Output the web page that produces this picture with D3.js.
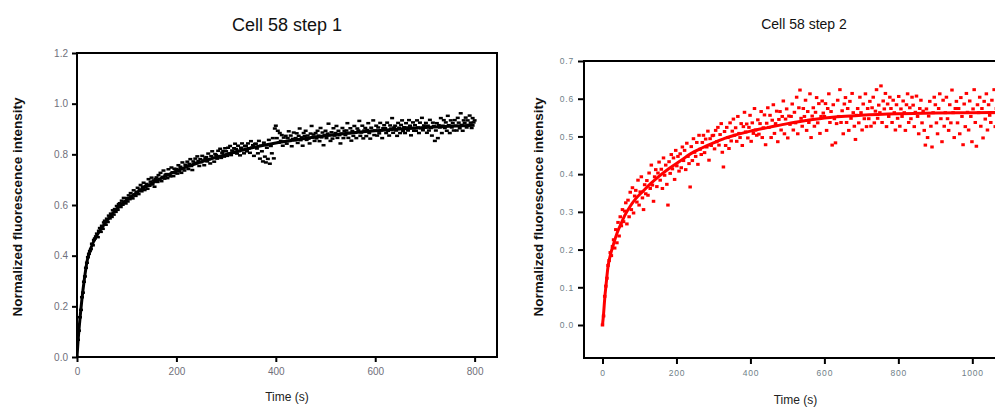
<!DOCTYPE html>
<html>
<head>
<meta charset="utf-8">
<script src="https://cdn.jsdelivr.net/npm/d3@7.9.0/dist/d3.min.js"></script>
<style>
  body { margin: 0; background: #fff; }
  svg { display: block; font-family: "Liberation Sans", Arial, sans-serif; }
</style>
</head>
<body>
<svg id="chart" width="995" height="407"></svg>
<script>
// Step 1 recording: one frame every 2 s
const step1Interval = 2;
const step1Values = [
  0.000,0.068,0.104,0.157,0.186,0.236,0.254,0.297,0.318,0.352,
  0.372,0.394,0.407,0.418,0.426,0.447,0.441,0.462,0.468,0.476,
  0.487,0.473,0.498,0.509,0.494,0.518,0.506,0.531,0.538,0.522,
  0.546,0.533,0.558,0.547,0.566,0.553,0.579,0.562,0.584,0.573,
  0.596,0.581,0.603,0.607,0.592,0.617,0.601,0.628,0.609,0.606,
  0.627,0.614,0.638,0.623,0.647,0.631,0.626,0.658,0.641,0.636,
  0.652,0.668,0.643,0.661,0.679,0.654,0.672,0.688,0.659,0.674,
  0.683,0.664,0.702,0.676,0.692,0.708,0.681,0.697,0.672,0.703,
  0.709,0.691,0.718,0.702,0.727,0.694,0.711,0.736,0.704,0.719,
  0.722,0.706,0.741,0.718,0.713,0.748,0.729,0.714,0.743,0.726,
  0.742,0.724,0.757,0.733,0.751,0.727,0.768,0.744,0.736,0.759,
  0.753,0.771,0.742,0.762,0.781,0.754,0.738,0.772,0.764,0.783,
  0.766,0.792,0.773,0.754,0.781,0.769,0.794,0.776,0.757,0.784,
  0.789,0.772,0.803,0.781,0.764,0.793,0.812,0.786,0.771,0.801,
  0.797,0.783,0.814,0.792,0.822,0.786,0.806,0.813,0.791,0.824,
  0.812,0.794,0.826,0.803,0.833,0.797,0.815,0.806,0.824,0.842,
  0.821,0.803,0.834,0.813,0.796,0.826,0.843,0.817,0.804,0.832,
  0.834,0.812,0.843,0.824,0.806,0.852,0.826,0.836,0.794,0.841,
  0.842,0.823,0.804,0.853,0.783,0.834,0.812,0.772,0.846,0.791,
  0.768,0.826,0.782,0.857,0.763,0.833,0.804,0.864,0.784,0.902,
  0.913,0.864,0.893,0.846,0.884,0.853,0.876,0.834,0.866,0.851,
  0.873,0.842,0.864,0.891,0.853,0.874,0.832,0.861,0.886,0.856,
  0.864,0.883,0.845,0.873,0.902,0.856,0.867,0.834,0.884,0.872,
  0.893,0.857,0.874,0.862,0.843,0.882,0.912,0.866,0.878,0.853,
  0.884,0.863,0.893,0.874,0.852,0.904,0.867,0.886,0.836,0.875,
  0.893,0.864,0.882,0.921,0.876,0.853,0.887,0.862,0.903,0.874,
  0.884,0.912,0.865,0.893,0.876,0.843,0.882,0.904,0.864,0.893,
  0.876,0.894,0.923,0.865,0.884,0.903,0.854,0.892,0.873,0.912,
  0.885,0.864,0.902,0.894,0.932,0.873,0.886,0.913,0.863,0.894,
  0.904,0.872,0.896,0.923,0.884,0.862,0.905,0.893,0.934,0.876,
  0.894,0.913,0.874,0.906,0.883,0.924,0.895,0.864,0.903,0.915,
  0.903,0.884,0.925,0.893,0.874,0.914,0.902,0.943,0.885,0.906,
  0.913,0.894,0.873,0.924,0.905,0.884,0.916,0.934,0.892,0.907,
  0.884,0.923,0.906,0.894,0.935,0.913,0.875,0.904,0.926,0.893,
  0.915,0.893,0.934,0.906,0.884,0.925,0.903,0.944,0.895,0.914,
  0.906,0.924,0.885,0.913,0.894,0.936,0.904,0.874,0.925,0.912,
  0.853,0.894,0.923,0.864,0.915,0.906,0.943,0.884,0.913,0.935,
  0.904,0.926,0.893,0.952,0.915,0.884,0.934,0.906,0.923,0.894,
  0.935,0.913,0.894,0.944,0.925,0.903,0.962,0.916,0.893,0.934,
  0.924,0.945,0.906,0.934,0.916,0.953,0.925,0.904,0.943,0.926,
  0.934
];
// fitted recovery curve, step 1
const step1FitTime  = [0, 2, 5, 10, 15, 20, 30, 40, 50, 65, 80, 100, 125, 150, 200, 250, 300, 350, 400, 450, 500, 550, 600, 650, 700, 750, 800];
const step1FitValue = [0, 0.06, 0.13, 0.23, 0.31, 0.375, 0.44, 0.48, 0.51, 0.55, 0.585, 0.62, 0.655, 0.685, 0.735, 0.77, 0.80, 0.825, 0.845, 0.86, 0.873, 0.884, 0.893, 0.900, 0.906, 0.911, 0.915];
const step1XTicks = [0, 200, 400, 600, 800];
const step1YTicks = [0, 0.2, 0.4, 0.6, 0.8, 1.0, 1.2];

// Step 2 recording: one frame every 3 s
const step2Interval = 3;
const step2Values = [
  0.000,0.024,0.076,0.103,0.124,0.158,0.171,0.192,0.184,0.208,
  0.226,0.204,0.253,0.218,0.272,0.236,0.287,0.263,0.306,0.274,
  0.302,0.324,0.268,0.331,0.287,0.352,0.306,0.364,0.297,0.342,
  0.357,0.326,0.384,0.318,0.353,0.393,0.337,0.306,0.372,0.348,
  0.383,0.344,0.403,0.362,0.424,0.371,0.328,0.393,0.412,0.367,
  0.403,0.432,0.384,0.413,0.362,0.443,0.397,0.424,0.373,0.318,
  0.433,0.402,0.452,0.414,0.443,0.386,0.463,0.422,0.447,0.408,
  0.454,0.417,0.472,0.436,0.463,0.412,0.482,0.447,0.428,0.366,
  0.473,0.436,0.494,0.458,0.447,0.484,0.426,0.503,0.466,0.452,
  0.484,0.503,0.457,0.493,0.472,0.514,0.437,0.494,0.476,0.502,
  0.503,0.467,0.516,0.486,0.524,0.477,0.505,0.534,0.458,0.419,
  0.513,0.476,0.524,0.497,0.468,0.536,0.488,0.514,0.546,0.503,
  0.523,0.487,0.553,0.508,0.497,0.534,0.476,0.526,0.564,0.512,
  0.533,0.496,0.524,0.556,0.487,0.536,0.508,0.574,0.517,0.503,
  0.544,0.506,0.534,0.566,0.497,0.523,0.557,0.478,0.535,0.576,
  0.524,0.556,0.497,0.543,0.584,0.508,0.534,0.567,0.486,0.545,
  0.566,0.517,0.553,0.594,0.507,0.546,0.573,0.496,0.554,0.532,
  0.553,0.586,0.517,0.564,0.536,0.604,0.507,0.576,0.623,0.548,
  0.527,0.574,0.553,0.596,0.516,0.566,0.537,0.613,0.497,0.554,
  0.576,0.527,0.564,0.603,0.536,0.587,0.508,0.553,0.594,0.562,
  0.553,0.587,0.516,0.574,0.613,0.537,0.566,0.477,0.584,0.547,
  0.483,0.534,0.596,0.553,0.624,0.537,0.568,0.507,0.586,0.603,
  0.537,0.574,0.516,0.593,0.548,0.614,0.563,0.527,0.492,0.556,
  0.574,0.536,0.604,0.563,0.517,0.586,0.547,0.613,0.526,0.574,
  0.547,0.593,0.527,0.576,0.604,0.536,0.567,0.624,0.548,0.583,
  0.563,0.634,0.537,0.594,0.573,0.614,0.526,0.586,0.553,0.604,
  0.574,0.537,0.596,0.563,0.517,0.584,0.548,0.606,0.527,0.573,
  0.553,0.594,0.563,0.516,0.584,0.613,0.537,0.576,0.547,0.604,
  0.583,0.526,0.564,0.607,0.553,0.507,0.574,0.596,0.536,0.567,
  0.516,0.477,0.573,0.497,0.554,0.593,0.527,0.472,0.563,0.604,
  0.584,0.536,0.507,0.574,0.613,0.547,0.486,0.596,0.527,0.563,
  0.604,0.547,0.516,0.584,0.536,0.623,0.563,0.497,0.574,0.593,
  0.536,0.574,0.507,0.603,0.553,0.478,0.586,0.526,0.614,0.564,
  0.517,0.594,0.553,0.486,0.573,0.624,0.537,0.474,0.584,0.563,
  0.604,0.527,0.574,0.496,0.593,0.546,0.613,0.517,0.584,0.556,
  0.537,0.596,0.563,0.624,0.526,0.574,0.603,0.547,0.586,0.516,
  0.573,0.546,0.604,0.536,0.584,0.557,0.614,0.527,0.593,0.566
];
const step2FitTime  = [0, 3, 6, 10, 15, 20, 30, 40, 50, 60, 75, 90, 110, 130, 150, 180, 210, 240, 270, 300, 330, 360, 400, 450, 500, 550, 600, 700, 800, 900, 1000, 1110];
const step2FitValue = [0, 0.03, 0.07, 0.11, 0.155, 0.18, 0.215, 0.245, 0.268, 0.29, 0.315, 0.335, 0.355, 0.375, 0.392, 0.415, 0.435, 0.455, 0.47, 0.483, 0.495, 0.504, 0.514, 0.524, 0.534, 0.542, 0.549, 0.556, 0.560, 0.562, 0.563, 0.564];
const step2XTicks = [0, 200, 400, 600, 800, 1000];
const step2YTicks = [0, 0.1, 0.2, 0.3, 0.4, 0.5, 0.6, 0.7];

const svg = d3.select('#chart');

function drawPanel(p) {
  const x = d3.scaleLinear().domain(p.xDomain).range([p.left, p.right]);
  const y = d3.scaleLinear().domain(p.yDomain).range([p.bottom, p.top]);
  const g = svg.append('g');

  const clipId = 'clip-' + p.id;
  g.append('clipPath').attr('id', clipId)
    .append('rect')
    .attr('x', p.left).attr('y', p.top)
    .attr('width', p.right - p.left).attr('height', p.bottom - p.top);

  const plot = g.append('g').attr('clip-path', `url(#${clipId})`);

  // raw frames as small dashes
  const points = p.values.map((v, i) => ({ t: i * p.interval, v }));
  plot.selectAll('rect.pt')
    .data(points)
    .join('rect')
    .attr('class', 'pt')
    .attr('x', (d) => x(d.t) - p.dotW / 2)
    .attr('y', (d) => y(d.v) - p.dotH / 2)
    .attr('width', p.dotW)
    .attr('height', p.dotH)
    .attr('fill', p.color);

  // fitted curve
  const fit = p.fitTime.map((t, i) => [t, p.fitValue[i]]);
  plot.append('path')
    .datum(fit)
    .attr('fill', 'none')
    .attr('stroke', p.color)
    .attr('stroke-width', 3)
    .attr('d', d3.line().x((d) => x(d[0])).y((d) => y(d[1])).curve(d3.curveMonotoneX));

  // frame
  g.append('rect')
    .attr('x', p.left).attr('y', p.top)
    .attr('width', p.right - p.left).attr('height', p.bottom - p.top)
    .attr('fill', 'none').attr('stroke', '#000').attr('stroke-width', 2);

  const xAxis = g.append('g')
    .attr('transform', `translate(0,${p.bottom})`)
    .call(d3.axisBottom(x).tickValues(p.xTicks).tickSize(p.tick).tickPadding(6).tickFormat(d3.format('d')));
  const yAxis = g.append('g')
    .attr('transform', `translate(${p.left},0)`)
    .call(d3.axisLeft(y).tickValues(p.yTicks).tickSize(p.tick).tickPadding(4).tickFormat(d3.format('.1f')));

  [xAxis, yAxis].forEach((a) => {
    a.select('.domain').remove();
    a.selectAll('.tick line').attr('stroke', '#000').attr('stroke-width', 2);
    a.selectAll('.tick text')
      .attr('fill', p.tickColor)
      .style('font-size', p.tickFont + 'px')
      .style('letter-spacing', p.tickSpacing + 'px')
      .style('font-family', '"Liberation Sans", Arial, sans-serif');
  });

  g.append('text')
    .attr('x', p.titleX).attr('y', p.titleY)
    .attr('text-anchor', 'middle')
    .style('font-size', p.titleFont + 'px')
    .attr('fill', '#111')
    .text(p.title);

  g.append('text')
    .attr('x', (p.left + Math.min(p.right, 995)) / 2 + p.xLabelShift).attr('y', p.xLabelY)
    .attr('text-anchor', 'middle')
    .style('font-size', '12px')
    .attr('fill', '#222')
    .text('Time (s)');

  g.append('text')
    .attr('transform', `translate(${p.yLabelX},${p.yLabelY}) rotate(-90)`)
    .attr('text-anchor', 'middle')
    .style('font-size', '13.5px')
    .style('font-weight', 'bold')
    .attr('fill', '#111')
    .text('Normalized fluorescence intensity');
}

drawPanel({
  id: 's1', left: 77, right: 497, top: 53, bottom: 357,
  xDomain: [0, 845], yDomain: [0, 1.2],
  interval: step1Interval, values: step1Values,
  fitTime: step1FitTime, fitValue: step1FitValue,
  xTicks: step1XTicks, yTicks: step1YTicks,
  color: '#000', dotW: 4, dotH: 2.5,
  tick: 5, tickColor: '#6f6f7a', tickFont: 10, tickSpacing: 0,
  title: 'Cell 58 step 1', titleX: 287, titleY: 31, titleFont: 18,
  xLabelShift: 0, xLabelY: 401,
  yLabelX: 22, yLabelY: 207
});

drawPanel({
  id: 's2', left: 584, right: 1013, top: 61, bottom: 358,
  xDomain: [-50, 1110], yDomain: [-0.0875, 0.7],
  interval: step2Interval, values: step2Values,
  fitTime: step2FitTime, fitValue: step2FitValue,
  xTicks: step2XTicks, yTicks: step2YTicks,
  color: '#ff0000', dotW: 3.5, dotH: 3,
  tick: 6, tickColor: '#6f8088', tickFont: 8.5, tickSpacing: 0.8,
  title: 'Cell 58 step 2', titleX: 804, titleY: 29, titleFont: 14,
  xLabelShift: 6, xLabelY: 404,
  yLabelX: 543, yLabelY: 207
});
</script>
</body>
</html>
